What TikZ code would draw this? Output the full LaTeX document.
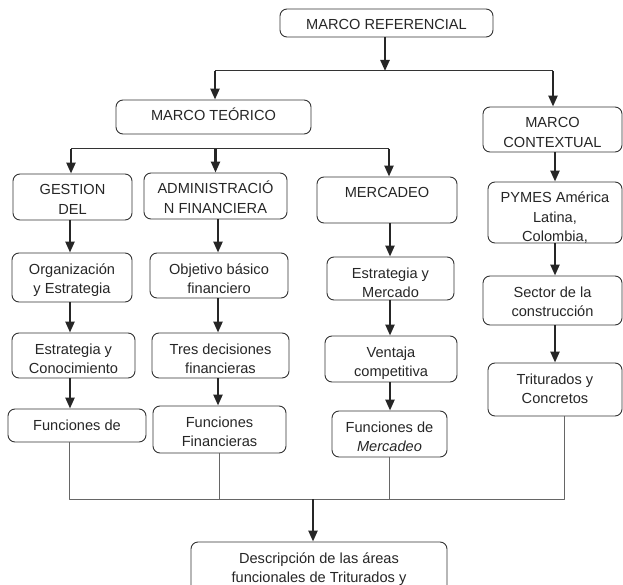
\documentclass[tikz,border=0pt]{standalone}
\usepackage{fontspec}
\setmainfont{Liberation Sans}
\usetikzlibrary{arrows.meta}

% texto pegado arriba dentro de cada caja (ancho, alto, texto)
\newcommand{\ctexto}[3]{\parbox[c][#2pt][t]{#1pt}{\centering\rule{0pt}{21pt}#3}}

\begin{document}
\begin{tikzpicture}[x=1pt, y=-1pt, line join=round,
    caja/.style={draw=black!80, line width=0.9pt, rounded corners=7pt, inner sep=0pt,
      text=black!85, font=\fontsize{14.6}{19.5}\selectfont},
    flecha/.style={draw=black!85, line width=2.3pt, -{Triangle[length=11pt,width=9pt]}},
    linea/.style={draw=black!80, line width=1pt},
    lineagris/.style={draw=black!60, line width=1pt}]
      \useasboundingbox (0,0) rectangle (623,585);
      \clip (0,0) rectangle (623,585);

      % Cajas (nivel 1)
      \node[caja] (ref) at (386.5,23) {\ctexto{213}{28}{MARCO REFERENCIAL}};
      \node[caja] (teo) at (213.5,117) {\ctexto{195}{34}{MARCO TEÓRICO}};
      \node[caja] (ctx) at (552.5,129.5) {\ctexto{139}{45}{MARCO\\CONTEXTUAL}};

      % Cajas (columnas)
      \node[caja] (ges) at (72.5,197) {\ctexto{119}{46}{GESTION\\DEL}};
      \node[caja] (adm) at (215.5,196) {\ctexto{143}{46}{ADMINISTRACIÓ\\N FINANCIERA}};
      \node[caja] (mer) at (387,200) {\ctexto{140}{46}{MERCADEO}};
      \node[caja] (pym) at (555,212.5) {\ctexto{134}{61}{PYMES América\\Latina,\\Colombia,}};

      \node[caja] (org) at (72,277.5) {\ctexto{120}{49}{Organización\\y Estrategia}};
      \node[caja] (obj) at (219,275.5) {\ctexto{138}{45}{Objetivo básico\\financiero}};
      \node[caja] (emr) at (390.5,278.5) {\ctexto{127}{43}{Estrategia y\\Mercado}};
      \node[caja] (sec) at (552.5,300.5) {\ctexto{139}{49}{Sector de la\\construcción}};

      \node[caja] (eco) at (73.5,355.5) {\ctexto{123}{45}{Estrategia y\\Conocimiento}};
      \node[caja] (tre) at (220.5,355.5) {\ctexto{137}{45}{Tres decisiones\\financieras}};
      \node[caja] (ven) at (391,359) {\ctexto{132}{46}{Ventaja\\competitiva}};
      \node[caja] (tri) at (555,389.5) {\ctexto{134}{53}{Triturados y\\Concretos}};

      \node[caja] (fge) at (77,425.5) {\ctexto{138}{33}{Funciones de}};
      \node[caja] (ffi) at (219.5,429.5) {\ctexto{133}{47}{Funciones\\Financieras}};
      \node[caja] (fme) at (389.5,434) {\ctexto{115}{46}{Funciones de\\\textit{Mercadeo}}};

      % Caja final (cortada por el borde)
      \node[caja] (des) at (319,570) {\ctexto{256}{56}{Descripción de las áreas\\funcionales de Triturados y}};

      % Barras horizontales
      \coordinate (b0) at (385,71);
      \coordinate (b1) at (215,71);
      \coordinate (b2) at (553,71);
      \coordinate (b3) at (71,149);
      \coordinate (b4) at (389,149);
      \coordinate (b5) at (69,499);
      \coordinate (b6) at (564,499);
      \coordinate (b7) at (313,499);
      % x de cada columna
      \coordinate (k1) at (70,0);
      \coordinate (k2) at (218,0);
      \coordinate (k3) at (390,0);
      \coordinate (k4) at (555,0);

      \draw[linea] (b1) -- (b2);
      \draw[flecha] (ref.south -| b0) -- (b0);
      \draw[flecha] (b1) -- (b1 |- teo.north);
      \draw[flecha] (b2) -- (b2 |- ctx.north);

      \draw[linea] (b3) -- (b4);
      \draw[flecha] (b3) -- (b3 |- ges.north);
      \draw[flecha] (adm.north |- b3) -- (adm.north);
      \draw[flecha] (b4) -- (b4 |- mer.north);

      % Flechas dentro de cada columna
      \foreach \a/\b/\k in {ges/org/k1, org/eco/k1, eco/fge/k1,
                            adm/obj/k2, obj/tre/k2, tre/ffi/k2,
                            mer/emr/k3, emr/ven/k3, ven/fme/k3,
                            ctx/pym/k4, pym/sec/k4, sec/tri/k4}
        \draw[flecha] (\a.south -| \k) -- (\b.north -| \k);

      % Uniones de abajo
      \draw[lineagris] (fge.south -| b5) -- (b5) -- (b6) -- (b6 |- tri.south);
      \draw[lineagris] (ffi.south) -- (ffi.south |- b5);
      \draw[lineagris] (fme.south) -- (fme.south |- b5);
      \draw[flecha] (b7) -- (b7 |- des.north);

    \end{tikzpicture}
\end{document}
